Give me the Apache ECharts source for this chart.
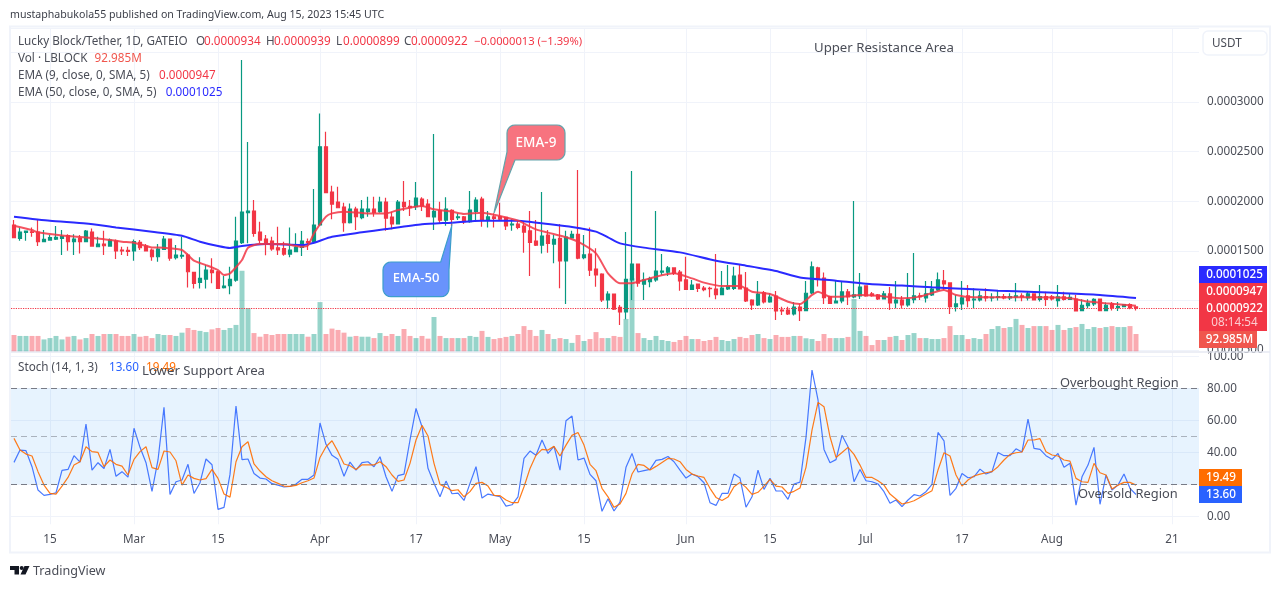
<!DOCTYPE html>
<html lang="en">
<head>
<meta charset="UTF-8">
<title>LBLOCK/USDT</title>
<script src="https://cdn.jsdelivr.net/npm/echarts@6/dist/echarts.min.js"></script>
<style>
    *{margin:0;padding:0}
    html,body{width:1281px;height:589px;background:#fff;overflow:hidden}
    #box{width:1281px;height:589px}
</style>
</head>
<body>
<div id="box"></div>
<script type="text/javascript">
// prices are in units of 0.0000001, one entry per day from 2023-02-09
const opens = [1760,1625,1686,1692,1689,1592,1608,1618,1625,1652,
    1592,1625,1592,1689,1541,1568,1548,1598,1508,1504,
    1498,1585,1548,1508,1440,1514,1618,1430,1447,1457,
    1282,1182,1215,1306,1289,1128,1148,1205,1582,1884,
    1901,1689,1618,1598,1531,1521,1467,1491,1534,1592,
    1592,1760,2549,2092,1991,1941,1783,1921,1834,1894,
    1921,1894,1991,1840,1770,1988,1948,1945,2022,1972,
    1841,1904,1810,1908,1834,1841,1794,1898,2022,1810,
    1841,1844,1837,1760,1770,1750,1700,1599,1558,1659,
    1568,1626,1397,1629,1666,1431,1468,1316,1266,1004,
    1064,930,883,1206,1367,1165,1189,1206,1286,1286,
    1327,1286,1206,1112,1165,1125,1122,1115,1058,1115,
    1122,1256,1125,1004,954,1075,984,1044,903,903,
    863,933,897,1075,1327,1226,1038,974,994,1085,
    1035,1045,1146,1065,1055,1014,1065,974,1004,954,
    1008,1045,1025,1055,1105,1196,1176,937,964,1045,
    1004,1004,1038,1025,1031,1038,1025,1035,1045,1025,
    1065,1011,1038,1035,998,1035,1011,1014,897,947,
    964,1014,897,964,927,937,957,934];
const closes = [1632,1689,1699,1686,1592,1615,1632,1635,1642,1592,
    1618,1592,1699,1548,1568,1551,1608,1498,1498,1494,
    1592,1531,1498,1440,1518,1618,1427,1457,1454,1289,
    1172,1222,1306,1279,1121,1145,1212,1598,1891,1901,
    1676,1608,1585,1518,1508,1467,1508,1538,1598,1582,
    1760,2549,2086,1971,1934,1783,1921,1844,1921,1921,
    1887,1991,1830,1770,1991,1945,1935,2032,1952,1844,
    1898,1810,1921,1817,1841,1794,1911,2012,1810,1841,
    1827,1820,1750,1770,1736,1689,1585,1558,1649,1575,
    1616,1397,1639,1666,1427,1458,1306,1256,1004,1064,
    913,883,1212,1367,1175,1206,1219,1296,1296,1327,
    1273,1196,1112,1155,1122,1108,1118,1058,1125,1145,
    1246,1115,994,954,1064,984,1034,893,893,863,
    933,896,1072,1337,1213,1028,971,994,1085,1035,
    1055,1135,1045,1048,1014,1065,974,1004,954,1014,
    1045,1038,1065,1115,1206,1166,937,964,1025,998,
    1014,1045,1025,1031,1038,1025,1038,1045,1038,1065,
    1004,1038,1011,1014,1035,1011,1031,894,951,974,
    1011,897,951,924,937,957,924,922];
const lows = [1632,1602,1602,1642,1548,1592,1602,1608,1457,1501,
    1457,1474,1592,1541,1541,1457,1541,1417,1457,1447,
    1400,1508,1498,1400,1390,1508,1400,1413,1420,1131,
    1121,1121,1121,1172,1121,1121,1061,1188,1568,1575,
    1642,1575,1454,1501,1457,1450,1434,1491,1447,1508,
    1568,1753,2079,1817,1928,1692,1776,1709,1817,1844,
    1844,1884,1702,1716,1770,1901,1851,1911,1901,1837,
    1710,1770,1753,1750,1810,1770,1784,1810,1743,1736,
    1736,1804,1710,1703,1716,1481,1246,1548,1474,1481,
    1374,1122,964,1626,1414,1414,1246,1138,984,917,
    903,752,809,1004,1138,1004,1132,1189,1256,1246,
    1256,1098,1105,1105,1085,1091,1031,1011,1054,1105,
    1105,1112,984,903,944,970,977,802,853,853,
    849,792,897,1065,1139,964,964,971,971,954,
    1021,1014,1038,1038,1004,1011,904,920,920,937,
    971,1004,978,1045,1095,1105,863,887,904,930,
    920,988,988,988,998,1011,1004,988,991,998,
    998,988,944,998,937,998,1004,887,890,920,
    944,894,894,897,894,930,910,899];
const highs = [1810,1736,1699,1736,1810,1709,1659,1750,1709,1666,
    1666,1659,1709,1726,1642,1702,1625,1615,1541,1541,
    1615,1608,1568,1524,1568,1649,1625,1558,1642,1474,
    1289,1434,1356,1424,1299,1246,1340,1844,3423,2596,
    2012,1793,1659,1642,1743,1592,1736,1676,1699,1625,
    2122,2885,2700,2156,2146,1985,1978,1944,2012,2045,
    2045,2045,2035,1894,2012,2204,2012,2193,2039,2019,
    2677,1995,2039,1918,1878,1851,2103,2039,2046,1901,
    1878,1985,1844,1817,1810,1794,1901,1810,2093,1710,
    1659,1770,1703,1703,2314,1659,1736,1525,1273,1091,
    1064,954,1689,2304,1367,1280,1239,1901,1468,1347,
    1333,1306,1441,1206,1165,1145,1138,1468,1296,1357,
    1340,1357,1286,1011,1196,1095,1071,1095,937,937,
    984,970,1196,1391,1340,1280,1048,1196,1186,1115,
    2002,1277,1146,1085,1065,1095,1135,1196,1045,1277,
    1478,1078,1196,1196,1280,1307,1176,1055,1196,1156,
    1122,1095,1122,1072,1095,1065,1072,1176,1072,1088,
    1072,1156,1088,1055,1156,1088,1072,1055,1011,1011,
    1021,1014,978,984,984,964,971,939];
// volume in millions
const volumes = [88,83,83,83,83,65,72,83,65,79,
    83,65,72,93,83,93,93,93,83,83,
    93,79,83,72,93,88,88,83,100,124,
    114,109,103,117,124,114,124,140,420,227,
    98,79,93,88,93,93,93,93,93,79,
    93,258,93,121,114,100,79,83,79,79,
    72,98,83,93,83,119,83,72,83,69,
    181,83,72,72,72,72,83,78,109,78,
    67,72,78,83,93,134,114,83,114,93,
    67,72,67,47,88,57,67,103,72,72,
    83,78,171,381,98,72,62,83,62,57,
    52,62,83,67,67,57,62,78,62,57,
    67,78,72,88,93,72,67,88,78,78,
    83,83,71,67,57,93,72,72,72,78,
    274,109,83,36,62,62,78,83,62,88,
    98,72,72,67,67,72,134,88,88,67,
    72,67,93,119,134,124,129,171,140,124,
    134,134,134,114,140,114,124,129,145,119,
    129,124,129,134,129,129,134,93];
const stochK = [33.7,41.4,41.0,31.0,16.4,13.1,13.7,14.7,28.7,29.3,
    37.9,33.9,57.7,28.9,33.5,29.9,41.8,25.0,27.9,24.5,
    55.0,43.1,33.5,15.6,35.2,68.1,13.7,21.6,22.7,32.5,
    14.3,21.0,35.8,32.2,4.3,5.6,26.2,68.9,35.4,35.8,
    26.8,23.9,23.3,20.4,19.5,18.3,18.7,20.2,23.1,23.1,
    25.8,58.3,45.0,38.1,35.6,25.0,33.9,28.9,33.5,34.1,
    31.0,37.2,24.7,15.6,25.4,26.4,47.7,67.4,56.0,30.0,
    20.6,12.2,22.0,14.1,14.5,9.9,20.6,31.0,11.4,13.9,
    13.1,12.2,6.4,7.2,12.2,36.2,40.8,38.1,47.7,39.3,
    43.7,28.9,59.7,62.7,35.2,36.4,26.2,22.2,3.1,11.0,
    3.3,8.9,30.6,39.3,27.7,28.5,29.3,35.0,35.6,37.4,
    34.1,28.9,23.9,26.4,24.7,21.0,8.5,6.8,14.3,14.3,
    26.4,23.9,5.7,12.2,28.9,16.8,23.7,15.8,15.8,10.6,
    20.2,21.4,49.3,91.4,72.7,41.8,33.5,35.4,50.6,43.5,
    21.6,29.3,22.2,21.6,20.2,15.4,8.1,10.2,6.0,10.2,
    13.5,12.7,15.4,20.0,52.4,47.2,13.1,17.5,26.8,24.1,
    24.7,29.5,26.4,27.9,39.9,37.9,37.9,42.2,40.2,60.8,
    42.4,41.8,37.9,35.6,39.3,30.6,33.1,7.0,24.7,32.0,
    43.1,7.5,25.8,16.4,19.5,26.4,17.5,13.6];
const stochD = [48.7,41.4,38.9,37.7,27.9,19.5,14.3,13.9,18.9,24.3,
    32.0,34.1,43.5,40.4,39.9,31.0,35.2,32.5,31.4,25.8,
    35.6,40.4,43.5,30.4,29.3,40.8,40.2,34.7,19.5,25.8,
    23.7,22.7,23.5,29.3,23.7,13.9,12.0,34.1,43.5,46.6,
    32.7,28.3,24.7,22.2,20.6,18.9,18.7,19.3,21.0,22.2,
    23.9,36.8,43.5,47.2,40.4,32.7,31.6,29.3,32.2,32.2,
    32.2,34.1,31.0,25.8,21.8,22.7,33.1,47.7,56.8,50.2,
    33.1,19.9,18.1,16.0,16.6,12.2,15.4,20.6,21.2,18.9,
    13.1,12.9,10.2,8.5,8.5,18.5,29.9,38.1,41.8,41.4,
    43.7,37.7,44.5,50.6,52.4,44.5,32.5,28.5,17.5,12.2,
    5.6,7.7,14.3,26.4,32.5,31.8,28.9,31.2,33.7,36.2,
    35.8,34.1,29.3,26.4,25.2,24.3,17.5,11.8,9.9,12.0,
    18.5,21.2,18.1,13.7,15.0,18.9,23.1,18.9,18.3,14.3,
    15.6,17.7,30.6,53.9,71.2,68.5,49.7,36.8,39.9,43.1,
    38.7,32.0,24.3,24.3,22.2,19.5,13.9,10.8,7.7,8.5,
    9.7,11.8,13.9,16.0,28.9,39.7,37.7,25.8,18.9,22.7,
    25.2,26.4,27.2,27.9,31.0,35.2,38.7,39.7,40.2,47.7,
    47.7,48.5,40.4,38.3,37.7,35.2,34.5,23.7,21.6,21.2,
    33.1,27.2,25.8,17.0,19.5,21.2,21.2,19.49];
// EMA readings, day number -> price, taken where the line bends
const ema9Days = [0,3,4,8,12,14,18,20,23,25,28,30,32,34,35,36,38,39,41,45,48,49,50,52,53,55,59,62,64,68,
    70,73,75,78,81,84,87,89,92,94,97,99,101,103,104,107,110,113,115,118,121,123,126,129,131,
    133,134,136,138,141,144,148,151,155,157,160,170,176,179,182,187];
const ema9Values = [1753,1709,1686,1655,1635,1625,1592,1582,1534,1531,1508,1400,1356,1306,1256,1272,1407,1531,1568,1568,1541,1555,1676,1844,1877,1894,1877,1877,1911,1951,
    1918,1894,1871,1884,1851,1804,1716,1683,1636,1592,1474,1273,1172,1172,1189,1239,1273,1222,1179,1145,1145,1088,1064,987,964,
    1055,1088,1038,1038,1055,1048,1021,1038,1105,1055,1031,1031,1021,988,971,947];
const ema50Days = [0,6,12,17,23,28,31,34,36,38,42,48,50,53,58,62,68,73,78,84,89,93,97,99,101,105,111,117,122,127,131,137,142,148,153,159,164,170,175,181,187];
const ema50Values = [1844,1803,1776,1736,1692,1652,1592,1548,1528,1548,1568,1558,1582,1642,1686,1719,1767,1784,1804,1804,1770,1740,1693,1636,1575,1532,1484,1400,1350,1296,1231,1199,1169,1149,1132,1115,1098,1085,1072,1055,1025];
const priceTicks = {min:500, step:500, top:3000};
const stochTicks = [0,20,40,60,80,100];
const tickDates = ['2023-02-15','2023-03-01','2023-03-15','2023-04-01','2023-04-17','2023-05-01','2023-05-15','2023-06-01','2023-06-15','2023-07-01','2023-07-17','2023-08-01','2023-08-21'];
const tickNames = ['15','Mar','15','Apr','17','May','15','Jun','15','Jul','17','Aug','21'];

const UP = '#089981', DOWN = '#f23645', GRID = '#f0f3fa', TXT = '#4a4d57';
const FONT = '"Noto Sans", sans-serif';
const SIZE = 11.7;

// the axis runs on past the last candle, up to the 21st tick and a bit more
let days = [];
for (let i = 0; i < 198; i++) {
    days.push(new Date(Date.UTC(2023, 1, 9 + i)).toISOString().slice(0, 10));
}
let isTick = (i, name) => tickDates.includes(name);
let zip = (a, b) => a.map((v, i) => [v, b[i]]);

let xAxisBase = (gridIndex, showLabel) => ({
    type: 'category',
    gridIndex,
    data: days,
    axisLine: {show: false},
    axisTick: {show: false},
    splitLine: {show: true, interval: isTick, alignWithLabel: true, lineStyle: {color: GRID}},
    axisLabel: {
        show: showLabel,
        interval: isTick,
        margin: 9,
        color: TXT,
        fontFamily: FONT,
        fontSize: SIZE,
        formatter: v => tickNames[tickDates.indexOf(v)]
    }
});

let txt = (x, y, text, fill, size, align, weight) => ({
    type: 'text',
    z: 60,
    silent: true,
    style: {x, y, text, fill, fontSize: size || SIZE, fontFamily: FONT, align: align || 'left',
        verticalAlign: 'middle', fontWeight: weight || 'normal'}
});
let box = (x, y, width, height, fill, r) => ({
    type: 'rect', z: 55, silent: true,
    shape: {x, y, width, height, r: r || 0},
    style: {fill}
});
let arc = (cx, cy, r, from) => {
    let pts = [];
    for (let i = 0; i <= 5; i++) {
        let a = (from + i * 18) * Math.PI / 180;
        pts.push([cx + r * Math.cos(a), cy + r * Math.sin(a)]);
    }
    return pts;
};
let bubble = (points, fill, stroke) => ({
    type: 'polygon', z: 55, silent: true,
    shape: {points},
    style: {fill, stroke, lineWidth: 1.2}
});

let option = {
    animation: false,
    backgroundColor: '#fff',
    grid: [
        {left: 11, top: 28, width: 1188, height: 322},
        {left: 11, top: 252, width: 1188, height: 100},
        {left: 11, top: 352.3, width: 1188, height: 172}
    ],
    xAxis: [xAxisBase(0, false), Object.assign(xAxisBase(1, false), {splitLine: {show: false}}), xAxisBase(2, true)],
    yAxis: [
        {
            type: 'value', gridIndex: 0, position: 'right',
            min: priceTicks.min, max: 3746, interval: priceTicks.step, scale: true,
            axisLine: {show: false}, axisTick: {show: false},
            splitLine: {lineStyle: {color: GRID}},
            axisLabel: {
                margin: 8, color: TXT, fontFamily: FONT, fontSize: SIZE, showMaxLabel: false,
                formatter: v => v > priceTicks.top ? '' : (v * 1e-7).toFixed(7)
            }
        },
        {type: 'value', gridIndex: 1, min: 0, max: 517, show: false},
        {
            type: 'value', gridIndex: 2, position: 'right', min: -5, max: 102.5,
            axisLine: {show: false},
            axisTick: {show: false, customValues: stochTicks},
            splitLine: {lineStyle: {color: GRID}},
            axisLabel: {
                margin: 8, color: TXT, fontFamily: FONT, fontSize: SIZE,
                customValues: stochTicks,
                formatter: v => v.toFixed(2)
            }
        }
    ],
    series: [
        {
            name: 'Vol', type: 'bar', xAxisIndex: 1, yAxisIndex: 1, z: 1,
            barWidth: 5,
            data: volumes,
            itemStyle: {color: p => closes[p.dataIndex] >= opens[p.dataIndex] ? 'rgba(8,153,129,0.42)' : 'rgba(242,54,69,0.42)'}
        },
        {
            name: 'LBLOCK', type: 'candlestick', xAxisIndex: 0, yAxisIndex: 0, z: 2,
            barWidth: 4,
            data: opens.map((o, i) => [o, closes[i], lows[i], highs[i]]),
            itemStyle: {color: UP, color0: DOWN, borderColor: UP, borderColor0: DOWN, borderWidth: 1.2},
            markLine: {
                silent: true, symbol: ['none', 'none'], label: {show: false},
                lineStyle: {color: DOWN, type: 'dotted', width: 1.2},
                data: [{yAxis: closes[closes.length - 1]}]
            }
        },
        {
            name: 'EMA 50', type: 'line', xAxisIndex: 0, yAxisIndex: 0, z: 3, symbol: 'none', smooth: 0.2,
            data: zip(ema50Days, ema50Values), lineStyle: {color: '#2a2aff', width: 2}
        },
        {
            name: 'EMA 9', type: 'line', xAxisIndex: 0, yAxisIndex: 0, z: 3, symbol: 'none', smooth: 0.2,
            data: zip(ema9Days, ema9Values), lineStyle: {color: '#f23645', width: 2, opacity: 0.85}
        },
        {
            name: '%K', type: 'line', xAxisIndex: 2, yAxisIndex: 2, z: 3, symbol: 'none',
            data: stochK, lineStyle: {color: '#2962ff', width: 1.2, opacity: 0.85},
            markArea: {
                silent: true, itemStyle: {color: 'rgba(33,150,243,0.11)'},
                data: [[{yAxis: 20}, {yAxis: 80}]]
            },
            markLine: {
                silent: true, symbol: ['none', 'none'], label: {show: false},
                data: [
                    {yAxis: 80, lineStyle: {color: '#787b86', type: [6, 4], width: 1}},
                    {yAxis: 50, lineStyle: {color: 'rgba(120,123,134,0.55)', type: [6, 4], width: 1}},
                    {yAxis: 20, lineStyle: {color: '#787b86', type: [6, 4], width: 1}}
                ]
            }
        },
        {
            name: '%D', type: 'line', xAxisIndex: 2, yAxisIndex: 2, z: 4, symbol: 'none',
            data: stochD, lineStyle: {color: '#ff6d00', width: 1.2, opacity: 0.9}
        }
    ],
    graphic: {elements: [
        // frame
        {type: 'rect', z: 40, silent: true, shape: {x: 10, y: 26.5, width: 1260, height: 526},
            style: {fill: 'none', stroke: GRID, lineWidth: 2}},
        {type: 'line', z: 40, silent: true, shape: {x1: 11, y1: 352, x2: 1270, y2: 352},
            style: {stroke: '#e6e9f2', lineWidth: 1.5}},

        txt(10, 15, 'mustaphabukola55 published on TradingView.com, Aug 15, 2023 15:45 UTC', '#3b3e48', 10.6),

        // legend
        txt(18, 42, 'Lucky Block/Tether, 1D, GATEIO', TXT),
        txt(196, 42, 'O', TXT), txt(204, 42, '0.0000934', DOWN),
        txt(266, 42, 'H', TXT), txt(274, 42, '0.0000939', DOWN),
        txt(336, 42, 'L', TXT), txt(343, 42, '0.0000899', DOWN),
        txt(404, 42, 'C', TXT), txt(411, 42, '0.0000922', DOWN),
        txt(474, 42, '\u22120.0000013 (\u22121.39%)', DOWN, 11.2),
        txt(18, 58.7, 'Vol \u00b7 LBLOCK', TXT), txt(94.6, 58.7, '92.985M', '#f0564d'),
        txt(18, 75.5, 'EMA (9, close, 0, SMA, 5)', TXT), txt(159, 75.5, '0.0000947', DOWN),
        txt(18, 92.5, 'EMA (50, close, 0, SMA, 5)', TXT), txt(165.7, 92.5, '0.0001025', '#2a2aff'),
        txt(18, 368, 'Stoch (14, 1, 3)', TXT), txt(109, 368, '13.60', '#2962ff'), txt(146, 368, '19.49', '#ff6d00'),

        // drawn area names
        txt(814, 48, 'Upper Resistance Area', TXT, 13.2),
        txt(142, 371, 'Lower Support Area', TXT, 13.2),
        txt(1060, 383.5, 'Overbought Region', TXT, 12.85),
        txt(1078, 494, 'Oversold Region', TXT, 12.85),

        // currency button
        {type: 'rect', z: 55, silent: true, shape: {x: 1203, y: 31, width: 64, height: 24, r: 5},
            style: {fill: '#fff', stroke: GRID, lineWidth: 1.5}},
        txt(1212, 43.5, 'USDT', TXT),

        // callouts
        bubble([].concat(arc(515, 133, 8, 180), arc(557, 133, 8, 270), arc(557, 152, 8, 0), [[515, 160], [494, 213], [507, 152]]), 'rgba(247,108,120,0.95)', '#62a3ab'),
        txt(536, 143, 'EMA-9', '#fff', 13.5, 'center', 500),
        bubble([].concat(arc(391, 270, 8, 180), [[440.7, 262], [451.7, 226], [449, 270]], arc(441, 288.7, 8, 0), arc(391, 288.7, 8, 90)), 'rgba(100,143,252,0.97)', '#3d9ecb'),
        txt(416, 278.5, 'EMA-50', '#fff', 13, 'center', 500),

        // last value tags
        box(1199, 266, 68, 17, '#2a2aff'),
        txt(1234.5, 274.8, '0.0001025', '#fff', SIZE, 'center', 500),
        box(1199, 283, 68, 48, DOWN),
        txt(1234.5, 291.5, '0.0000947', '#fff', SIZE, 'center', 500),
        txt(1234.5, 308.3, '0.0000922', '#fff', SIZE, 'center', 500),
        txt(1234.5, 322.7, '08:14:54', 'rgba(255,255,255,0.75)', SIZE, 'center'),
        box(1199, 331, 58, 17, '#f0564d'),
        txt(1229.5, 340, '92.985M', '#fff', SIZE, 'center', 500),
        box(1199, 469, 43, 17, '#ff6d00'),
        txt(1221, 477.8, '19.49', '#fff', SIZE, 'center', 500),
        box(1199, 486, 43, 17, '#2962ff'),
        txt(1221, 494.8, '13.60', '#fff', SIZE, 'center', 500),

        // logo
        {type: 'polygon', z: 55, silent: true, shape: {points: [[10, 566], [19, 566], [19, 574.5], [14.5, 574.5], [14.5, 570], [10, 570]]}, style: {fill: '#131722'}},
        {type: 'circle', z: 55, silent: true, shape: {cx: 21.7, cy: 568, r: 2}, style: {fill: '#131722'}},
        {type: 'polygon', z: 55, silent: true, shape: {points: [[24.5, 566], [29.5, 566], [25.5, 574.5], [20.5, 574.5]]}, style: {fill: '#131722'}},
        txt(33, 571.5, 'TradingView', TXT, 12.6)
    ]}
};

let myChart = echarts.init(document.getElementById('box'), null, {renderer: 'canvas'});
myChart.setOption(option);
</script>
</body>
</html>
